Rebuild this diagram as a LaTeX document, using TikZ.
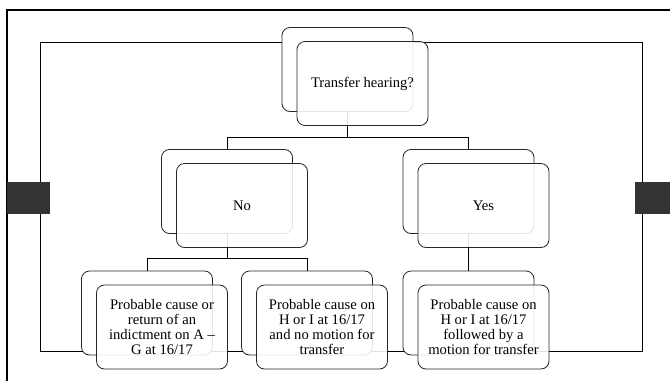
\documentclass[tikz,border=0pt]{standalone}
\usepackage{fontspec}
\setmainfont{Liberation Serif}
\usetikzlibrary{backgrounds}

\tikzset{
	back/.style={draw=black!85, fill=white, rounded corners=8pt, minimum width=131pt, minimum height=84pt, line width=0.8pt},
	front/.style={back, fill opacity=0.88, text opacity=1, align=center, font=\fontsize{14.6}{14.7}\selectfont},
	link/.style={draw=black, line width=0.8pt}
}

\begin{document}
\begin{tikzpicture}[x=1pt,y=-1pt]
		\useasboundingbox (0,0) rectangle (670,381);
		\node[back] (top-b) at (347.5,69.5) {};
		\node[front] (top) at ([shift={(15,14)}]top-b) {Transfer hearing?};
		\node[back] (no-b) at (227,191.5) {};
		\node[front] (no) at ([shift={(15,14)}]no-b) {No};
		\node[back] (yes-b) at (468.5,191.5) {};
		\node[front] (yes) at ([shift={(15,14)}]yes-b) {Yes};
		\node[back] (pc-b) at (147,313) {};
		\node[front] (pc) at ([shift={(15,14)}]pc-b) {Probable cause or\\ return of an\\ indictment on A --\\ G at 16/17};
		\node[back] (hn-b) at (307,313) {};
		\node[front] (hn) at ([shift={(15,14)}]hn-b) {Probable cause on\\ H or I at 16/17\\ and no motion for\\ transfer};
		\node[back] (hm-b) at (468.5,313) {};
		\node[front] (hm) at ([shift={(15,14)}]hm-b) {Probable cause on\\ H or I at 16/17\\ followed by a\\ motion for transfer};
		\begin{scope}[on background layer]
			\draw[line width=2.5pt] (7,381) -- (7,10) -- (670,10);
			\draw[link] (40,42) rectangle (642,351);
			\fill[black!80] (7,182) rectangle (50,214);
			\fill[black!80] (635,182) rectangle (670,214);
			\coordinate (fork-a) at (347.5,137);
			\coordinate (fork-b) at (227,258);
			\draw[link] (top-b.south) -- (fork-a) -| (no-b.north);
			\draw[link] (fork-a) -| (yes-b.north);
			\draw[link] (no-b.south) -- (fork-b) -| (pc-b.north);
			\draw[link] (fork-b) -| (hn-b.north);
			\draw[link] (yes-b.south) -- (hm-b.north);
		\end{scope}
	\end{tikzpicture}
\end{document}
